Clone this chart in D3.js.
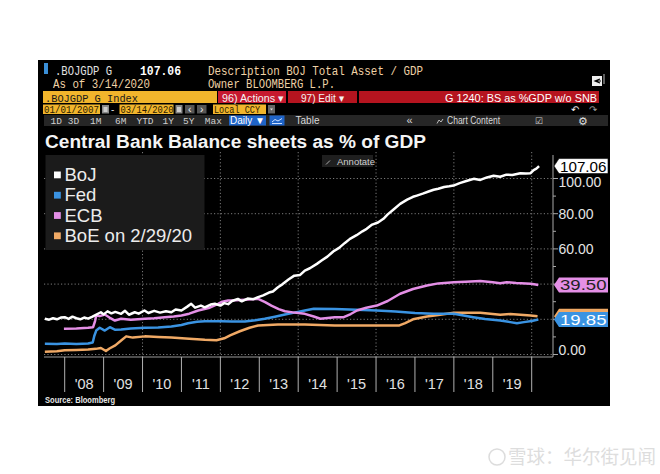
<!DOCTYPE html>
<html><head><meta charset="utf-8">
<script src="https://cdn.jsdelivr.net/npm/d3@7"></script>
<style>html,body{margin:0;padding:0;background:#fff;}svg{display:block;}</style>
</head><body>
<svg id="c" width="660" height="474"></svg>
<script>
// ---------- DATA (decimal years, % of GDP) ----------
const yearTicks = [2008,2009,2010,2011,2012,2013,2014,2015,2016,2017,2018,2019,2020];
const yearLabels = ["'08","'09","'10","'11","'12","'13","'14","'15","'16","'17","'18","'19"];
const yTicks = [0,20,40,60,80,100];
const yTickLabels = ["0.00","20.00","40.00","60.00","80.00","100.00"];
const seriesNames = ["BoJ","Fed","ECB","BoE on 2/29/20"];

const bojX = [2007.49,2007.6,2007.7,2007.8,2007.9,2008.0,2008.1,2008.2,2008.3,2008.4,2008.5,2008.6,2008.7,2008.8,2008.93,2009.0,2009.1,2009.2,2009.3,2009.45,2009.55,2009.65,2009.8,2009.9,2010.05,2010.15,2010.3,2010.45,2010.6,2010.74,2010.85,2011.0,2011.15,2011.25,2011.35,2011.5,2011.6,2011.75,2011.86,2012.0,2012.1,2012.2,2012.3,2012.45,2012.55,2012.7,2012.85,2012.97,2013.1,2013.25,2013.35,2013.48,2013.6,2013.75,2013.9,2014.05,2014.17,2014.3,2014.48,2014.6,2014.75,2014.9,2015.05,2015.2,2015.33,2015.5,2015.65,2015.76,2015.9,2016.05,2016.19,2016.3,2016.45,2016.62,2016.8,2016.95,2017.05,2017.2,2017.35,2017.48,2017.6,2017.75,2017.88,2017.99,2018.15,2018.3,2018.45,2018.51,2018.68,2018.85,2019.02,2019.19,2019.35,2019.5,2019.71,2019.85,2019.97,2020.05,2020.12,2020.19];
const bojV = [20.3,19.8,20.6,20.0,21.0,21.2,20.2,21.5,20.6,20.0,21.0,20.4,21.4,22.5,24.0,22.8,24.5,23.4,24.2,23.1,24.8,22.6,24.0,23.2,25.0,23.6,24.8,23.8,24.6,24.0,25.6,25.0,27.2,28.8,26.6,27.8,26.8,28.4,28.8,27.8,29.2,28.6,30.4,31.6,30.2,31.8,31.4,32.6,33.6,35.2,35.8,38.2,40.0,42.6,44.8,45.2,47.7,49.0,51.5,53.4,55.6,58.5,60.6,63.4,65.7,67.8,70.0,71.4,73.8,75.0,77.1,79.6,82.4,85.6,88.0,89.6,90.3,91.4,92.6,93.6,94.2,95.2,95.6,96.0,97.4,98.4,99.4,99.8,99.2,100.6,101.6,101.0,102.2,102.0,103.0,102.8,103.0,104.8,105.6,107.06];

const fedX = [2007.49,2007.8,2008.0,2008.3,2008.6,2008.72,2008.76,2008.81,2008.9,2009.03,2009.16,2009.3,2009.45,2009.7,2010.06,2010.4,2010.74,2011.0,2011.17,2011.4,2011.6,2012.03,2012.3,2012.63,2012.9,2013.14,2013.4,2013.66,2013.9,2014.17,2014.4,2014.94,2015.5,2016.02,2016.5,2017.0,2017.48,2018.0,2018.5,2018.8,2019.19,2019.45,2019.62,2019.8,2020.0,2020.17];
const fedV = [6.1,6.0,6.2,6.0,6.2,6.8,10.5,13.6,15.2,13.6,15.5,14.0,14.2,14.8,15.2,15.4,15.9,16.8,17.8,18.6,18.9,18.9,18.8,18.7,19.4,20.3,21.5,22.7,23.8,25.0,26.0,25.8,25.4,25.0,24.4,23.6,23.1,23.1,21.2,20.2,19.3,18.4,17.8,18.4,19.0,19.85];

const ecbX = [2007.98,2008.3,2008.6,2008.73,2008.78,2008.81,2008.9,2009.03,2009.15,2009.29,2009.45,2009.7,2010.06,2010.3,2010.57,2010.8,2011.0,2011.2,2011.43,2011.7,2011.94,2012.05,2012.2,2012.4,2012.63,2012.8,2012.97,2013.15,2013.31,2013.5,2013.66,2013.9,2014.17,2014.4,2014.57,2014.94,2015.17,2015.35,2015.51,2015.75,2016.02,2016.3,2016.62,2016.95,2017.31,2017.6,2018.0,2018.3,2018.68,2019.0,2019.19,2019.36,2019.6,2019.97,2020.1,2020.17];
const ecbV = [14.6,14.8,15.2,15.5,19.0,22.2,21.8,22.7,21.0,19.3,20.3,19.8,20.3,20.6,21.2,21.6,22.2,23.2,25.0,26.4,28.8,30.0,30.7,30.8,31.1,31.4,31.6,29.8,27.8,25.8,24.6,23.8,23.1,21.6,20.3,21.2,21.2,23.0,25.0,26.6,27.8,30.4,34.5,37.2,39.2,40.4,41.1,41.4,41.7,41.0,40.5,41.1,40.6,40.2,39.8,39.5];

const boeX = [2007.49,2007.8,2008.0,2008.3,2008.6,2008.8,2008.93,2009.06,2009.15,2009.3,2009.45,2009.58,2009.75,2010.06,2010.4,2010.74,2011.2,2011.6,2011.9,2012.1,2012.25,2012.5,2012.75,2012.97,2013.48,2014.17,2014.94,2015.5,2016.0,2016.6,2016.75,2016.95,2017.31,2017.6,2018.0,2018.68,2019.19,2019.45,2019.97,2020.15];
const boeV = [1.5,1.8,2.4,2.6,2.8,3.2,3.7,2.0,3.4,5.2,8.0,10.3,9.6,10.3,10.0,9.6,9.0,8.4,8.1,9.2,10.9,13.2,15.2,16.5,17.0,17.0,16.5,16.5,16.5,16.5,17.8,20.0,21.6,22.5,23.7,23.7,22.6,23.0,22.2,21.8];

const lastValues = [107.06, 19.85, 39.50, 21.8];

// ---------- STYLE ----------
const colors = ["#ffffff","#3a93e2","#e48fe6","#f0a965"];
const svg = d3.select("#c");
const mono = "'Liberation Mono','DejaVu Sans Mono',monospace";
const sans = "'Liberation Sans',Arial,sans-serif";

function txt(g, x, y, s, o) {
  o = o || {};
  const t = g.append("text").attr("x", x).attr("y", y).text(s)
    .attr("font-family", o.family || sans).attr("font-size", o.size || 12)
    .attr("fill", o.fill || "#ddd");
  if (o.weight) t.attr("font-weight", o.weight);
  if (o.len) t.attr("textLength", o.len).attr("lengthAdjust", "spacingAndGlyphs");
  if (o.anchor) t.attr("text-anchor", o.anchor);
  return t;
}

// panel
svg.append("rect").attr("x",38).attr("y",60).attr("width",572).attr("height",346).attr("fill","#000");

// ---------- HEADER ----------
const hd = svg.append("g");
hd.append("rect").attr("x",44).attr("y",63).attr("width",4).attr("height",11).attr("fill","#3a8fd8");
txt(hd,55,75,".BOJGDP G",{family:mono,size:13,fill:"#e2e2e2",len:57});
txt(hd,140,75,"107.06",{family:mono,size:13,fill:"#fff",weight:"bold",len:41});
txt(hd,208,75,"Description BOJ Total Asset / GDP",{family:mono,size:13,fill:"#efd2a6",len:215});
txt(hd,53,88,"As of 3/14/2020",{family:mono,size:12.5,fill:"#efd2a6",len:97});
txt(hd,208,88,"Owner BLOOMBERG L.P.",{family:mono,size:12.5,fill:"#efd2a6",len:127});
hd.append("rect").attr("x",592).attr("y",76).attr("width",10).attr("height",10).attr("fill","#eee");
hd.append("path").attr("d","M600,79 L595,81 L600,83 M595,81 L601,81").attr("stroke","#000").attr("fill","none").attr("stroke-width",1.2);
hd.append("line").attr("x1",604).attr("x2",604).attr("y1",74).attr("y2",84).attr("stroke","#bbb");

// row 3
hd.append("rect").attr("x",43).attr("y",91).attr("width",174).attr("height",12).attr("fill","#f1b52c");
txt(hd,45,101.5,".BOJGDP G Index",{family:mono,size:11.5,fill:"#1a1a1a",len:93});
hd.append("rect").attr("x",218).attr("y",91).attr("width",68).attr("height",12).attr("fill","#c7192f");
txt(hd,222,101.5,"96) Actions ▾",{size:11,fill:"#f4f4f4",len:62});
hd.append("rect").attr("x",288).attr("y",91).attr("width",69).attr("height",12).attr("fill","#b5141f");
txt(hd,301,101.5,"97) Edit ▾",{size:11,fill:"#f4f4f4",len:43});
hd.append("rect").attr("x",359).attr("y",91).attr("width",240).attr("height",12).attr("fill","#b5141f");
txt(hd,597,101.5,"G 1240: BS as %GDP w/o SNB",{size:11,fill:"#fff",len:152,anchor:"end"});

// row 4
function ybox(x,w,s,l){hd.append("rect").attr("x",x).attr("y",104.5).attr("width",w).attr("height",9.5).attr("fill","#f1b52c");
  txt(hd,x+1,113,s,{family:mono,size:10,fill:"#2a1a00",len:l});}
ybox(43,57,"01/01/2007",55);
ybox(119.5,54,"03/14/2020",53);
ybox(213,53,"Local CCY",46);
[102,175.5].forEach(x=>{hd.append("rect").attr("x",x).attr("y",105).attr("width",7).attr("height",8.5).attr("fill","#888");
  hd.append("rect").attr("x",x+1.5).attr("y",107).attr("width",4).attr("height",5).attr("fill","#ccc");});
txt(hd,111,112.5,"-",{size:10,fill:"#ddd"});
[[185,"‹"],[197,"›"]].forEach(d=>{hd.append("rect").attr("x",d[0]).attr("y",105).attr("width",9.5).attr("height",8.5).attr("fill","#555");
  txt(hd,d[0]+4.75,113,d[1],{size:10.5,fill:"#eee",anchor:"middle"});});
hd.append("rect").attr("x",268).attr("y",105).attr("width",7).attr("height",8.5).attr("fill","#666");
hd.append("path").attr("d","M270,108.5 L273,108.5 L271.5,110.5 Z").attr("fill","#ddd");
txt(hd,575,113,"↶",{size:10,fill:"#eee",anchor:"middle"});
txt(hd,593,113,"↷",{size:10,fill:"#999",anchor:"middle"});

// row 5
hd.append("rect").attr("x",44).attr("y",115).attr("width",564).attr("height",11).attr("fill","#262626");
[["1D",56.3],["3D",73.5],["1M",95.7],["6M",120.7],["YTD",145],["1Y",168.3],["5Y",188.7],["Max",213.3]].forEach(d=>{
  txt(hd,d[1],124,d[0],{family:mono,size:9.5,fill:"#cfcfcf",anchor:"middle"});});
hd.append("rect").attr("x",229).attr("y",115.5).attr("width",37).attr("height",10).attr("fill","#1f64c8");
txt(hd,247.5,124,"Daily ▼",{size:10,fill:"#fff",anchor:"middle"});
hd.append("rect").attr("x",269.5).attr("y",115.5).attr("width",15).attr("height",10).attr("fill","#1f64c8");
hd.append("path").attr("d","M272,122 L275,119.5 L278,121 L282,118.5 M272,123.5 L282,123.5").attr("stroke","#cfe0ff").attr("fill","none").attr("stroke-width",1);
txt(hd,307.5,124,"Table",{size:10,fill:"#d8d8d8",anchor:"middle"});
txt(hd,409.5,124,"«",{size:11,fill:"#d8d8d8",anchor:"middle"});
hd.append("path").attr("d","M437,123.5 L439,120 L441,122 L443,119").attr("stroke","#bbb").attr("fill","none");
txt(hd,447,124,"Chart Content",{size:10,fill:"#d8d8d8",len:53});
txt(hd,539,124,"☑",{size:9,fill:"#ccc",anchor:"middle"});
txt(hd,583,124.5,"⚙",{size:11,fill:"#ddd",anchor:"middle"});

// ---------- CHART ----------
const x = d3.scaleLinear().domain([2008,2020]).range([64.7,531.7]);
const y = d3.scaleLinear().domain([0,100]).range([354.5,178.5]);
const plotL = 44, plotR = 553, plotT = 152, axisY = 357;

txt(svg,45,147.5,"Central Bank Balance sheets as % of GDP",{size:18,weight:"bold",fill:"#f4f4f4",len:381});

const grid = svg.append("g").attr("stroke","#7a7a7a").attr("stroke-width",1).attr("stroke-dasharray","1.2,2.2");
yTicks.forEach(v=>grid.append("line").attr("x1",plotL).attr("x2",plotR).attr("y1",y(v)).attr("y2",y(v)));
[2010,2012,2014,2016,2018,2020].forEach(t=>grid.append("line").attr("x1",x(t)).attr("x2",x(t)).attr("y1",plotT).attr("y2",axisY));

// x axis
svg.append("line").attr("x1",plotL).attr("x2",plotR).attr("y1",axisY).attr("y2",axisY).attr("stroke","#9a9a9a");
const xa = svg.append("g");
yearTicks.forEach(t=>xa.append("line").attr("x1",x(t)).attr("x2",x(t)).attr("y1",axisY).attr("y2",392).attr("stroke","#b0b0b0"));
yearLabels.forEach((s,i)=>txt(xa,x(yearTicks[i]+0.5),388.5,s,{size:14.5,fill:"#e0e0e0",anchor:"middle"}));

// right axis (labels under the value tags are hidden, as in the original)
const ra = svg.append("g");
ra.append("line").attr("x1",plotR).attr("x2",plotR).attr("y1",155).attr("y2",axisY).attr("stroke","#a8a8a8");
d3.range(10,101,20).forEach(v=>ra.append("line").attr("x1",plotR).attr("x2",plotR+3).attr("y1",y(v)).attr("y2",y(v)).attr("stroke","#a8a8a8"));
yTicks.forEach(v=>ra.append("line").attr("x1",plotR).attr("x2",plotR+5).attr("y1",y(v)).attr("y2",y(v)).attr("stroke","#a8a8a8"));
const hiddenUnderTags = [20,40];
yTicks.forEach((v,i)=>{
  if (hiddenUnderTags.includes(v)) return;
  let yy = y(v)+5;
  if (v===0) yy -= 5;
  if (v===100) yy += 3;
  txt(ra,558.5,yy,yTickLabels[i],{size:14,fill:"#e4e4e4"});
});

// annotate button
svg.append("rect").attr("x",322).attr("y",155).attr("width",51).attr("height",12).attr("fill","#1f1f1f");
svg.append("path").attr("d","M326,164.5 L330,160.5").attr("stroke","#aaa");
txt(svg,337,164.5,"Annotate",{size:9.5,fill:"#cfcfcf"});

// lines
const line = d3.line().x(d=>x(d[0])).y(d=>y(d[1])).curve(d3.curveLinear);
const allSeries = [d3.zip(bojX,bojV), d3.zip(fedX,fedV), d3.zip(ecbX,ecbV), d3.zip(boeX,boeV)];
[3,1,2,0].forEach(i=>{
  svg.append("path").datum(allSeries[i]).attr("d",line).attr("fill","none")
    .attr("stroke",colors[i]).attr("stroke-width",2.5).attr("stroke-linejoin","round");
});

// legend
const lg = svg.append("g");
lg.append("rect").attr("x",45.5).attr("y",155).attr("width",159).attr("height",95).attr("fill","#1b1b1b");
seriesNames.forEach((n,i)=>{
  const by = 181 + i*20.3;
  lg.append("rect").attr("x",54).attr("y",by-9.5).attr("width",6.8).attr("height",6.8).attr("fill",colors[i]);
  txt(lg,64.5,by,n,{size:18.5,fill:"#ececec"});
});

// value tags (BoE tag sits behind the Fed tag, its text hidden)
const tagText = ["#000","#fff","#222",null];
[0,2,3,1].forEach(i=>{
  const cy = y(lastValues[i]);
  const h = 15;
  svg.append("path").attr("d",`M554,${cy} L559,${cy-h/2} L608,${cy-h/2} L608,${cy+h/2} L559,${cy+h/2} Z`)
    .attr("fill",colors[i]).attr("stroke", i===0?"#000":"none").attr("stroke-width",0.6);
  if (tagText[i]) txt(svg,560,cy+5.5,d3.format(".2f")(lastValues[i]),{size:15,fill:tagText[i],len:46.5});
});

// source
txt(svg,45,402.5,"Source: Bloomberg",{size:9.5,weight:"bold",fill:"#e8e8e8",len:70});

// watermark
const wm = svg.append("g").attr("opacity",0.5);
wm.append("circle").attr("cx",497).attr("cy",457).attr("r",8).attr("fill","none").attr("stroke","#bbb").attr("stroke-width",1.5);
txt(wm,508,464,"雪球：华尔街见闻",{family:"'Noto Sans CJK SC',sans-serif",size:19,fill:"#bdbdbd",len:148});
</script>
</body></html>
